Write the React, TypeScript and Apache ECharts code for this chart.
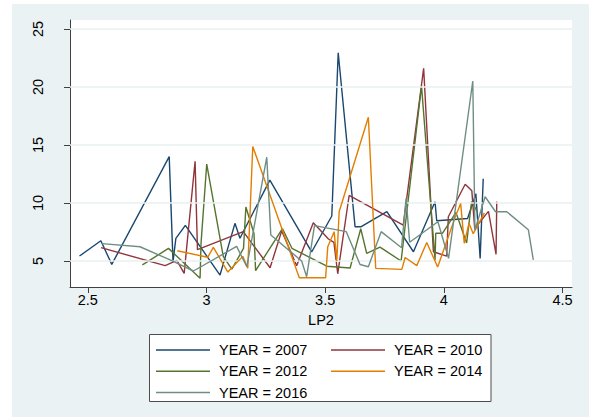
import React, { useEffect, useRef } from "react";
import * as echarts from "echarts";

// LP2 positions and values for each survey year, in drawing order
const lp2_2007 = [2.465, 2.555, 2.601, 2.843, 2.859, 2.871, 2.911, 3.057, 3.12, 3.141, 3.267, 3.443, 3.528, 3.555, 3.626, 3.652, 3.76, 3.872, 3.963, 3.97, 4.1, 4.135, 4.153, 4.166];
const val_2007 = [5.43, 6.75, 4.71, 14.0, 4.94, 6.95, 8.08, 3.79, 8.25, 6.96, 11.98, 5.78, 8.88, 22.96, 7.96, 7.96, 9.25, 5.8, 10.11, 8.47, 8.67, 10.8, 5.23, 12.1];

const lp2_2010 = [2.556, 2.826, 2.875, 2.906, 2.952, 2.962, 3.155, 3.268, 3.317, 3.38, 3.45, 3.514, 3.537, 3.553, 3.601, 3.829, 3.915, 3.956, 4.012, 4.019, 4.09, 4.118, 4.13, 4.188, 4.22, 4.223];
const val_2010 = [6.15, 4.6, 5.05, 3.94, 13.6, 5.98, 7.53, 4.42, 7.6, 4.6, 8.3, 6.9, 6.6, 3.9, 10.65, 8.1, 21.62, 5.8, 5.42, 8.82, 11.62, 11.05, 7.8, 9.28, 5.58, 10.12];

const lp2_2012 = [2.73, 2.84, 2.973, 2.977, 3.001, 3.071, 3.107, 3.156, 3.166, 3.2, 3.207, 3.32, 3.36, 3.507, 3.605, 3.65, 3.675, 3.731, 3.82, 3.906, 3.963, 3.966, 3.994, 4.051, 4.096, 4.117, 4.14];
const val_2012 = [4.66, 6.09, 3.51, 6.5, 13.35, 5.37, 4.3, 6.09, 9.66, 7.4, 4.17, 7.8, 6.1, 4.55, 4.4, 7.78, 5.66, 6.2, 5.0, 20.1, 5.09, 7.39, 7.39, 9.18, 6.55, 10.12, 9.3];

const lp2_2014 = [2.877, 3.005, 3.029, 3.09, 3.153, 3.174, 3.195, 3.391, 3.502, 3.511, 3.538, 3.549, 3.559, 3.682, 3.713, 3.823, 3.837, 3.886, 3.928, 3.974, 4.05, 4.071, 4.086, 4.106, 4.124, 4.171];
const val_2014 = [5.89, 5.32, 6.18, 4.05, 5.4, 4.37, 14.88, 3.56, 3.56, 6.23, 7.53, 5.0, 9.25, 17.39, 4.37, 4.28, 5.3, 4.6, 6.6, 4.48, 8.9, 9.95, 6.53, 8.25, 7.36, 9.15];

const lp2_2016 = [2.56, 2.72, 2.847, 2.945, 3.127, 3.17, 3.254, 3.271, 3.401, 3.422, 3.455, 3.589, 3.647, 3.682, 3.736, 3.822, 3.841, 3.856, 3.975, 4.02, 4.122, 4.131, 4.174, 4.218, 4.265, 4.356, 4.377];
const val_2016 = [6.5, 6.23, 5.09, 4.14, 6.26, 4.51, 13.95, 7.24, 5.0, 3.65, 8.05, 7.53, 4.7, 4.51, 7.53, 6.15, 10.4, 6.62, 8.39, 5.23, 20.52, 7.67, 10.54, 9.25, 9.25, 7.7, 5.1];

const xTicks = [2.5, 3, 3.5, 4, 4.5];
const yTicks = [5, 10, 15, 20, 25];

const years = ["YEAR = 2007", "YEAR = 2010", "YEAR = 2012", "YEAR = 2014", "YEAR = 2016"];
const colors = ["#1a476f", "#90353b", "#55752f", "#e37e00", "#6e8e84"];

const FONT = "'Liberation Sans', Arial, Helvetica, sans-serif";

function pairs(xs: number[], ys: number[]) {
  return xs.map((x, i) => [x, ys[i]]);
}

export default function App() {
  const ref = useRef<HTMLDivElement>(null);

  useEffect(() => {
    if (!ref.current) return;
    const chart = echarts.init(ref.current, undefined, { renderer: "svg" });
    const seriesData = [
      pairs(lp2_2007, val_2007),
      pairs(lp2_2010, val_2010),
      pairs(lp2_2012, val_2012),
      pairs(lp2_2014, val_2014),
      pairs(lp2_2016, val_2016),
    ];

    const legendCommon = {
      orient: "vertical" as const,
      icon: "rect",
      itemWidth: 54,
      itemHeight: 1.5,
      itemGap: 6.3,
      padding: 0,
      selectedMode: false,
      textStyle: {
        fontFamily: FONT,
        fontSize: 14.5,
        color: "#000",
        lineHeight: 14,
        padding: [0, 0, 0, 4],
      },
    };

    chart.setOption({
      animation: false,
      backgroundColor: "#ffffff",
      textStyle: { fontFamily: FONT },
      graphic: [
        {
          type: "rect",
          z: -10,
          shape: { x: 12, y: 4, width: 577, height: 413 },
          style: { fill: "#eaf2f3" },
        },
        {
          type: "rect",
          z: 0,
          shape: { x: 149.5, y: 334.5, width: 341.5, height: 67 },
          style: { fill: "#ffffff", stroke: "#4d4d4d", lineWidth: 1 },
        },
      ],
      grid: {
        left: 70,
        right: 17,
        top: 20,
        bottom: 132,
        show: true,
        backgroundColor: "#ffffff",
        borderWidth: 0,
      },
      legend: [
        { ...legendCommon, left: 156, top: 342.5, data: [years[0], years[2], years[4]] },
        { ...legendCommon, left: 331, top: 342.5, data: [years[1], years[3]] },
      ],
      xAxis: {
        type: "value",
        min: 2.425,
        max: 4.54,
        name: "LP2",
        nameLocation: "middle",
        nameGap: 25,
        nameTextStyle: { fontFamily: FONT, fontSize: 14.5, color: "#000" },
        axisLine: { show: true, onZero: false, lineStyle: { color: "#404040", width: 1 } },
        axisTick: { show: true, length: 6, customValues: xTicks, lineStyle: { color: "#404040" } },
        axisLabel: {
          customValues: xTicks,
          margin: 5,
          fontFamily: FONT,
          fontSize: 14.5,
          color: "#000",
        },
        splitLine: { show: false },
      },
      yAxis: {
        type: "value",
        min: 2.76,
        max: 25.78,
        axisLine: { show: true, onZero: false, lineStyle: { color: "#404040", width: 1 } },
        axisTick: { show: true, length: 6, customValues: yTicks, lineStyle: { color: "#404040" } },
        axisLabel: {
          customValues: yTicks,
          rotate: 90,
          margin: 25,
          fontFamily: FONT,
          fontSize: 14.5,
          color: "#000",
        },
        splitLine: { show: false },
      },
      series: [
        {
          type: "line",
          name: "grid",
          data: [],
          z: 1,
          silent: true,
          markLine: {
            silent: true,
            symbol: ["none", "none"],
            label: { show: false },
            lineStyle: { color: "#e8f0f1", type: "solid", width: 1.6 },
            data: yTicks.map((v) => ({ yAxis: v })),
          },
        },
        ...seriesData.map((d, i) => ({
          type: "line",
          name: years[i],
          data: d,
          z: 2 + i,
          showSymbol: false,
          symbol: "none",
          color: colors[i],
          lineStyle: { color: colors[i], width: 1.4 },
        })),
      ],
    });

    return () => chart.dispose();
  }, []);

  return (
    <div style={{ position: "fixed", left: 0, top: 0, width: 589, height: 419, background: "#fff" }}>
      <div ref={ref} style={{ width: 589, height: 419 }} />
    </div>
  );
}
